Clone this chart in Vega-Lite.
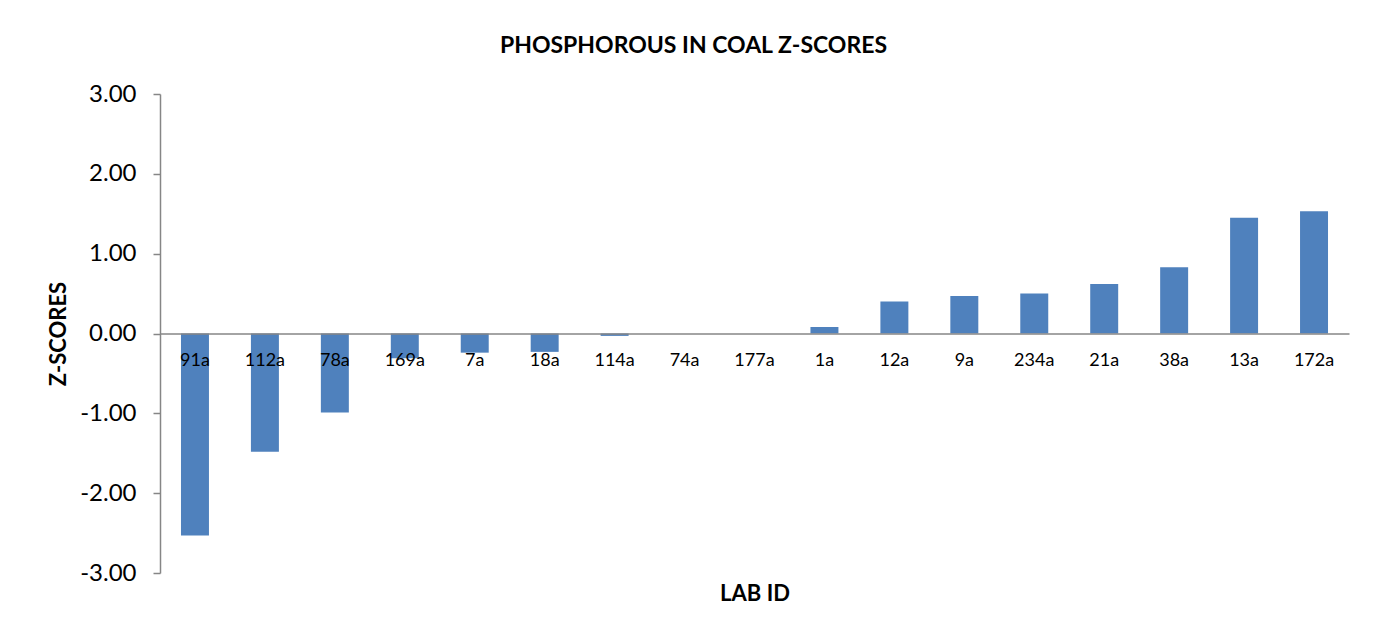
{
  "$schema": "https://vega.github.io/schema/vega-lite/v6.json",
  "width": 1189,
  "height": 479,
  "autosize": "none",
  "padding": {"left": 160, "top": 94, "right": 31, "bottom": 64},
  "background": "white",
  "config": {
    "font": "Lato",
    "view": {"stroke": null}
  },
  "title": {
    "text": "PHOSPHOROUS IN COAL Z-SCORES",
    "fontSize": 23,
    "fontWeight": "bold",
    "color": "#000000",
    "anchor": "middle",
    "dx": -61,
    "offset": 24
  },
  "data": {
    "values": [
      {"lab": "91a", "z": -2.53},
      {"lab": "112a", "z": -1.48},
      {"lab": "78a", "z": -0.99},
      {"lab": "169a", "z": -0.31},
      {"lab": "7a", "z": -0.24},
      {"lab": "18a", "z": -0.23},
      {"lab": "114a", "z": -0.03},
      {"lab": "74a", "z": 0.0},
      {"lab": "177a", "z": 0.0},
      {"lab": "1a", "z": 0.08},
      {"lab": "12a", "z": 0.4},
      {"lab": "9a", "z": 0.47},
      {"lab": "234a", "z": 0.5},
      {"lab": "21a", "z": 0.62},
      {"lab": "38a", "z": 0.83},
      {"lab": "13a", "z": 1.45},
      {"lab": "172a", "z": 1.53}
    ]
  },
  "mark": {"type": "bar", "color": "#4F81BD"},
  "encoding": {
    "x": {
      "field": "lab",
      "type": "nominal",
      "sort": null,
      "scale": {"paddingInner": 0.6, "paddingOuter": 0.3},
      "axis": {
        "title": "LAB ID",
        "titleFontSize": 22,
        "titleFontWeight": "bold",
        "titleColor": "#000000",
        "titleY": 260,
        "titleBaseline": "middle",
        "offset": -239.5,
        "zindex": 1,
        "labelAngle": 0,
        "labelFontSize": 18,
        "labelColor": "#000000",
        "labelPadding": 18,
        "labelBaseline": "top",
        "ticks": false,
        "domainColor": "#868686",
        "domainWidth": 1.5
      }
    },
    "y": {
      "field": "z",
      "type": "quantitative",
      "scale": {"domain": [-3, 3], "nice": false, "zero": false},
      "axis": {
        "title": "Z-SCORES",
        "titleFontSize": 22,
        "titleFontWeight": "bold",
        "titleColor": "#000000",
        "titleX": -102,
        "titleY": 239.5,
        "titleAlign": "center",
        "titleBaseline": "middle",
        "titleAngle": -90,
        "values": [-3, -2, -1, 0, 1, 2, 3],
        "labelExpr": "replace(format(datum.value, '.2f'), '\u2212', '-')",
        "labelFontSize": 24,
        "labelColor": "#000000",
        "labelPadding": 17,
        "tickSize": 7,
        "tickColor": "#868686",
        "tickWidth": 1.5,
        "domainColor": "#868686",
        "domainWidth": 1.5,
        "grid": false
      }
    }
  }
}
